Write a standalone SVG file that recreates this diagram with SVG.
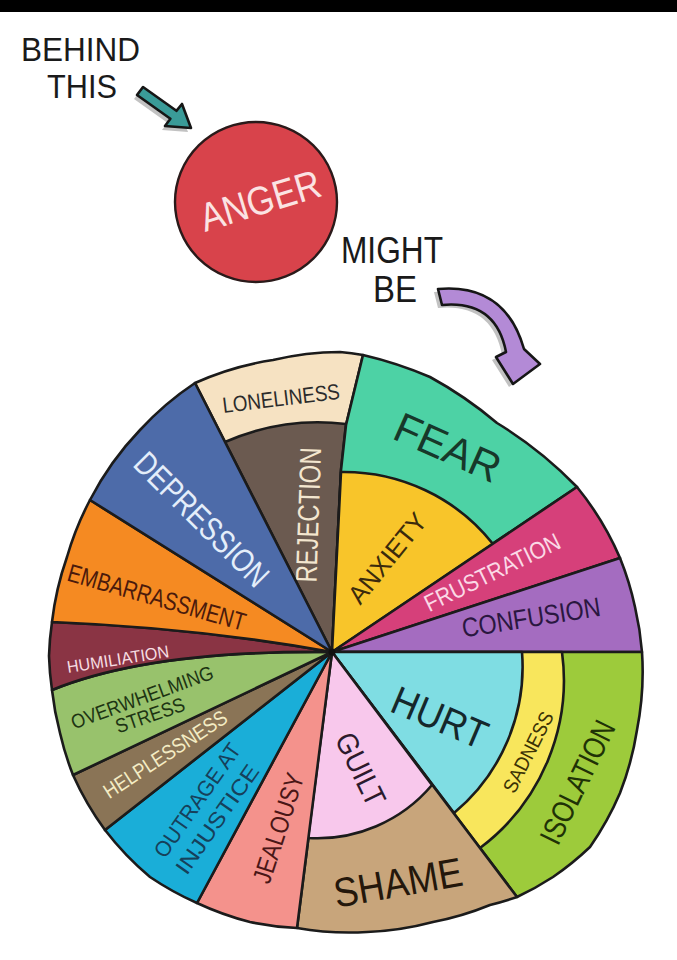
<svg xmlns="http://www.w3.org/2000/svg" width="677" height="960" viewBox="0 0 677 960">
<style>
.w{stroke:#1b1b1b;stroke-width:2.6;stroke-linejoin:round;stroke-linecap:round}
.t{font-family:"Liberation Sans",Arial,sans-serif;text-anchor:middle}
.h{font-family:"Liberation Sans",Arial,sans-serif;fill:#1a1a1a}
.sh{fill:#8f8f8f;opacity:.55}
.ar{stroke:#161616;stroke-width:2.6;stroke-linejoin:round}
</style>
<rect width="677" height="960" fill="#fff"/>
<rect width="677" height="12" fill="#000"/>

<g id="caption-behind">
<text class="h" x="21" y="61" font-size="34" textLength="119" lengthAdjust="spacingAndGlyphs">BEHIND</text>
<text class="h" x="47" y="98" font-size="34" textLength="70" lengthAdjust="spacingAndGlyphs">THIS</text>
</g>
<g id="caption-might">
<text class="h" x="341" y="263" font-size="36" textLength="102" lengthAdjust="spacingAndGlyphs">MIGHT</text>
<text class="h" x="373" y="302" font-size="36" textLength="44" lengthAdjust="spacingAndGlyphs">BE</text>
</g>

<g id="anger">
<ellipse cx="256" cy="202" rx="81" ry="80" fill="#d8434b" stroke="#2a1a1a" stroke-width="2.4"/>
<text class="t" transform="translate(260,200) rotate(-17)" dy="0.36em" font-size="40" fill="#fbe3e3" textLength="124" lengthAdjust="spacingAndGlyphs">ANGER</text>
</g>

<g id="connectors">
<g id="arrow-teal">
<polygon class="sh" transform="translate(-3,4)" points="143,87 176.4,110.8 182,104 191,128 165,126 170.4,118.8 137,95"/>
<polygon class="ar" fill="#3a9b98" points="143,87 176.4,110.8 182,104 191,128 165,126 170.4,118.8 137,95"/>
</g>
<g id="arrow-purple">
<path class="sh" transform="translate(-4,3)" d="M438,289 Q505,283 524,349 L540,364 L513,384 L496,357 L506,352 Q496,300 442,305 Z"/>
<path class="ar" fill="#b38ad6" d="M438,289 Q505,283 524,349 L540,364 L513,384 L496,357 L506,352 Q496,300 442,305 Z"/>
</g>
</g>

<g id="wheel">
<g id="loneliness">
<path class="w" fill="#f6e2c2" d="M332,652 L195,383 A300 300 0 0 1 273,360 A300 300 0 0 1 340,352 A300 300 0 0 1 363,355 L346,425 L341,470 Z"/>
<text class="t" transform="translate(281,398) rotate(-7)" dy="0.36em" font-size="22" fill="#2b2b2b" textLength="118" lengthAdjust="spacingAndGlyphs">LONELINESS</text>
</g>
<g id="rejection">
<path class="w" fill="#6b5a50" d="M332,652 L225,442 A232 232 0 0 1 346,424 L341,470 Z"/>
<text class="t" transform="translate(308,515) rotate(-88)" dy="0.36em" font-size="30" fill="#f3e6cf" textLength="135" lengthAdjust="spacingAndGlyphs">REJECTION</text>
</g>
<g id="fear">
<path class="w" fill="#4dd2a5" d="M332,652 L341,470 L346,425 L363,355 A400 400 0 0 1 430,377 A400 400 0 0 1 497,423 A400 400 0 0 1 577,487 Z"/>
<text class="t" transform="translate(448,447) rotate(24)" dy="0.36em" font-size="42" fill="#17382a" textLength="112" lengthAdjust="spacingAndGlyphs">FEAR</text>
</g>
<g id="anxiety">
<path class="w" fill="#f8c52a" d="M332,652 L341,472 A190 190 0 0 1 493,544 Z"/>
<text class="t" transform="translate(387,558) rotate(-51)" dy="0.36em" font-size="26" fill="#3b2a0c" textLength="108" lengthAdjust="spacingAndGlyphs">ANXIETY</text>
</g>
<g id="frustration">
<path class="w" fill="#d6407a" d="M332,652 L577,487 A300 300 0 0 1 620,558 Z"/>
<text class="t" transform="translate(492,572) rotate(-26)" dy="0.36em" font-size="24" fill="#fbd9e6" textLength="148" lengthAdjust="spacingAndGlyphs">FRUSTRATION</text>
</g>
<g id="confusion">
<path class="w" fill="#a46cc0" d="M332,652 L620,558 A300 300 0 0 1 635,607 A300 300 0 0 1 642,652 Z"/>
<text class="t" transform="translate(531,617) rotate(-9)" dy="0.36em" font-size="27" fill="#2a1740" textLength="140" lengthAdjust="spacingAndGlyphs">CONFUSION</text>
</g>
<g id="isolation">
<path class="w" fill="#9dcb3b" d="M332,652 L642,652 A300 300 0 0 1 637,730 A300 300 0 0 1 620,793 A300 300 0 0 1 590,847 A300 300 0 0 1 553,877 A300 300 0 0 1 517,897 Z"/>
<text class="t" transform="translate(577,782) rotate(-64)" dy="0.36em" font-size="31" fill="#1f3206" textLength="133" lengthAdjust="spacingAndGlyphs">ISOLATION</text>
</g>
<g id="sadness">
<path class="w" fill="#f8e65c" d="M332,652 L562,652 A210 210 0 0 1 480,848 Z"/>
<text class="t" transform="translate(528,752) rotate(-63)" dy="0.36em" font-size="20" fill="#3a3205" textLength="88" lengthAdjust="spacingAndGlyphs">SADNESS</text>
</g>
<g id="hurt">
<path class="w" fill="#7fdde3" d="M332,652 L522,652 A190 190 0 0 1 454,813 Z"/>
<text class="t" transform="translate(440,717) rotate(23)" dy="0.36em" font-size="40" fill="#15272b" textLength="100" lengthAdjust="spacingAndGlyphs">HURT</text>
</g>
<g id="shame">
<path class="w" fill="#c8a57b" d="M332,652 L517,897 A300 300 0 0 1 490,905 A300 300 0 0 1 433,922 A300 300 0 0 1 367,932 A300 300 0 0 1 297,928 Z"/>
<text class="t" transform="translate(398,882) rotate(-10)" dy="0.36em" font-size="41" fill="#24170b" textLength="130" lengthAdjust="spacingAndGlyphs">SHAME</text>
</g>
<g id="guilt">
<path class="w" fill="#f8c8ec" d="M332,652 L432,785 A150 150 0 0 1 308,838 Z"/>
<text class="t" transform="translate(361,769) rotate(64)" dy="0.36em" font-size="30" fill="#2c1a2c" textLength="78" lengthAdjust="spacingAndGlyphs">GUILT</text>
</g>
<g id="jealousy">
<path class="w" fill="#f4928c" d="M332,652 L297,928 A300 300 0 0 1 250,922 A300 300 0 0 1 197,903 Z"/>
<text class="t" transform="translate(278,828) rotate(-72)" dy="0.36em" font-size="26" fill="#4a1616" textLength="114" lengthAdjust="spacingAndGlyphs">JEALOUSY</text>
</g>
<g id="outrage-at-injustice">
<path class="w" fill="#1aaed8" d="M332,652 L197,903 A300 300 0 0 1 150,877 A300 300 0 0 1 105,830 Z"/>
<text class="t" transform="translate(197,800) rotate(-55)" dy="0.36em" font-size="22" fill="#16405a" textLength="134" lengthAdjust="spacingAndGlyphs">OUTRAGE AT</text>
<text class="t" transform="translate(217,819) rotate(-55)" dy="0.36em" font-size="22" fill="#16405a" textLength="128" lengthAdjust="spacingAndGlyphs">INJUSTICE</text>
</g>
<g id="helplessness">
<path class="w" fill="#8a7456" d="M332,652 L105,830 A300 300 0 0 1 73,775 Z"/>
<text class="t" transform="translate(165,754) rotate(-33)" dy="0.36em" font-size="21" fill="#f4ecc4" textLength="143" lengthAdjust="spacingAndGlyphs">HELPLESSNESS</text>
</g>
<g id="overwhelming-stress">
<path class="w" fill="#98c26c" d="M332,652 L73,775 A300 300 0 0 1 60,733 A300 300 0 0 1 52,690 Q150,650 332,652 Z"/>
<text class="t" transform="translate(142,697) rotate(-20)" dy="0.36em" font-size="20" fill="#1d3413" textLength="150" lengthAdjust="spacingAndGlyphs">OVERWHELMING</text>
<text class="t" transform="translate(150,715) rotate(-19)" dy="0.36em" font-size="20" fill="#1d3413" textLength="72" lengthAdjust="spacingAndGlyphs">STRESS</text>
</g>
<g id="humiliation">
<path class="w" fill="#8a3444" d="M332,652 Q150,650 52,690 A300 300 0 0 1 49,656 A300 300 0 0 1 52,622 Q200,628 332,652 Z"/>
<text class="t" transform="translate(118,659) rotate(-9)" dy="0.36em" font-size="17" fill="#f6dde2" textLength="103" lengthAdjust="spacingAndGlyphs">HUMILIATION</text>
</g>
<g id="embarrassment">
<path class="w" fill="#f58a22" d="M332,652 Q200,628 52,622 A300 300 0 0 1 67,557 A300 300 0 0 1 90,500 Z"/>
<text class="t" transform="translate(157,597) rotate(16)" dy="0.36em" font-size="25" fill="#4a1a0c" textLength="184" lengthAdjust="spacingAndGlyphs">EMBARRASSMENT</text>
</g>
<g id="depression">
<path class="w" fill="#4d6ba9" d="M332,652 L90,500 A300 300 0 0 1 140,430 A300 300 0 0 1 195,383 Z"/>
<text class="t" transform="translate(202,519) rotate(45)" dy="0.36em" font-size="33" fill="#e4eefa" textLength="175" lengthAdjust="spacingAndGlyphs">DEPRESSION</text>
</g>
<circle cx="332" cy="652" r="3.5" fill="#111"/>
</g>
</svg>
